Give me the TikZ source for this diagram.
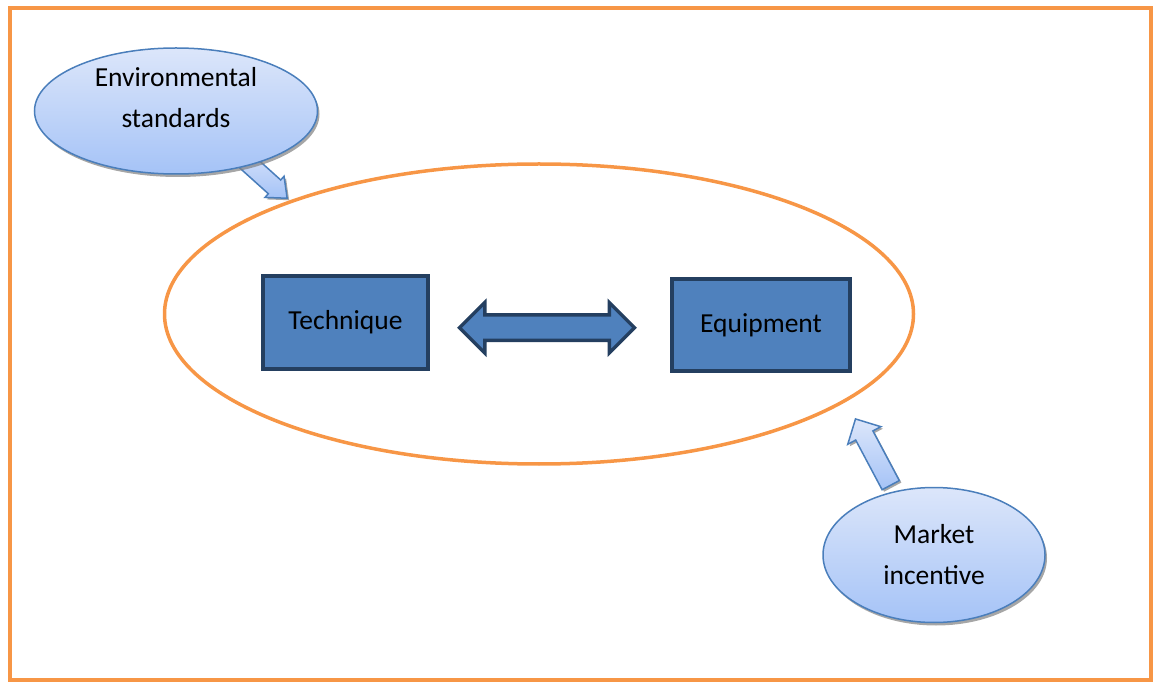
\documentclass[tikz,border=0pt]{standalone}
\usepackage{fontspec}
\setmainfont{Carlito}
\usetikzlibrary{positioning,calc,shapes.geometric,shapes.arrows,shadows}
\definecolor{FrameOrange}{HTML}{F79646}
\definecolor{BoxBlue}{HTML}{4F81BD}
\definecolor{BoxEdge}{HTML}{243F60}
\definecolor{BubbleTop}{HTML}{DCE6FA}
\definecolor{BubbleBottom}{HTML}{A5C3F7}
\definecolor{BubbleEdge}{HTML}{4A7EBB}

\begin{document}
\begin{tikzpicture}[x=1pt, y=-1pt, every node/.style={font=\fontsize{27.5}{41}\selectfont}]
    \tikzstyle{box}=[draw=BoxEdge, line width=3.5pt, fill=BoxBlue, align=center]
    \tikzstyle{bubble}=[ellipse, draw=BubbleEdge, line width=1.5pt, align=center,
                        top color=BubbleTop, bottom color=BubbleBottom,
                        drop shadow={shadow xshift=2pt, shadow yshift=-3pt,
                                     fill=black!50, opacity=0.7}]
    \tikzstyle{push}=[single arrow, draw=BubbleEdge, line width=1.5pt, inner xsep=0pt,
                      top color=BubbleTop, bottom color=BubbleBottom,
                      drop shadow={shadow xshift=2pt, shadow yshift=-2pt,
                                   fill=black!50, opacity=0.7}]

    \useasboundingbox (0,0) rectangle (1154,684);
    \draw[FrameOrange, line width=3.5pt] (10,8) rectangle (1151,680);

    \node[ellipse, draw=FrameOrange, line width=3.5pt,
          minimum width=749pt, minimum height=300pt] (field) at (539,314) {};

    \node[box, minimum width=165pt, minimum height=93pt] (tech) at (345.5,322.5) {Technique};
    \node[box, minimum width=178pt, minimum height=92pt] (equip) at (761,325) {Equipment};

    \node[double arrow, draw=BoxEdge, line width=3.5pt, fill=BoxBlue,
          inner xsep=0pt, inner ysep=11pt, minimum height=175pt,
          double arrow head extend=12.5pt]
          (link) at ($(tech.east)!0.5!(equip.west)+(-3,4)$) {};

    % pushes from outside
    \node[push, inner ysep=8.5pt, minimum height=70pt, single arrow head extend=5pt,
          single arrow tip angle=80, rotate=-42, anchor=tip] (pushenv) at (288,199) {};
    \node[push, inner ysep=9pt, minimum height=75pt, single arrow head extend=9pt,
          rotate=118, anchor=tip] (pushmarket) at (855,418) {};

    \node[bubble, minimum width=283pt, minimum height=126pt,
          label={[yshift=13pt, align=center]center:Environmental\\standards}] (env) at (176,111) {};
    \node[bubble, minimum width=222pt, minimum height=135pt] (market) at (934,555) {Market\\incentive};

  \end{tikzpicture}
\end{document}
